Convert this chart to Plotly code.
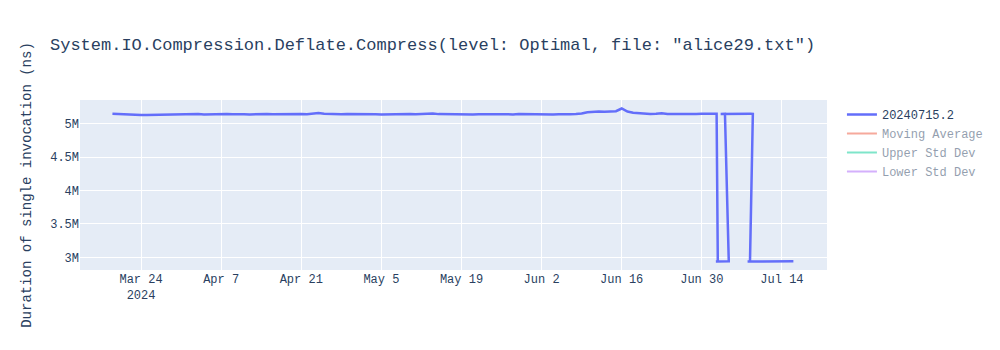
import pandas as pd
import plotly.graph_objects as go

# Regular daily runs (Mar 19 .. Jul 2, 2024)
daily_start = "2024-03-19"
daily_end = "2024-07-02"
daily_values = [
    5146000, 5142000, 5131000, 5128000, 5130000, 5127000, 5129000, 5131000, 5128000, 5130000,
    5133000, 5129000, 5131000,
    5135000, 5138000, 5141000, 5137000, 5140000, 5143000, 5139000, 5141000, 5138000, 5142000,
    5140000, 5137000, 5141000, 5139000, 5142000, 5138000, 5140000, 5136000, 5139000, 5137000,
    5141000, 5138000, 5144000, 5156000, 5146000, 5141000, 5143000, 5140000, 5142000, 5139000,
    5141000, 5137000, 5140000, 5138000, 5136000, 5139000, 5137000, 5140000, 5138000, 5141000,
    5139000, 5142000, 5140000, 5150000, 5141000, 5139000, 5142000, 5138000, 5141000, 5139000,
    5136000, 5140000, 5138000, 5141000, 5139000, 5143000, 5140000, 5137000, 5141000, 5139000,
    5142000,
    5140000, 5138000, 5141000, 5137000, 5140000, 5136000, 5139000, 5142000, 5150000, 5170000,
    5178000, 5180000, 5177000, 5181000, 5184000, 5225000, 5180000, 5163000, 5153000, 5145000,
    5143000, 5146000, 5155000, 5144000, 5142000, 5145000, 5143000, 5146000, 5144000, 5147000,
    5145000, 5146000,
]

# Later runs (in recorded order)
late_dates = [
    "2024-07-02 14:00", "2024-07-02 19:00", "2024-07-02 11:00", "2024-07-04 17:00",
    "2024-07-04 01:00", "2024-07-03 07:00", "2024-07-05 12:00", "2024-07-06 12:00",
    "2024-07-07 12:00", "2024-07-08 12:00", "2024-07-08 22:00", "2024-07-08 10:00",
    "2024-07-08 00:00", "2024-07-10 00:00", "2024-07-12 00:00", "2024-07-14 00:00",
    "2024-07-16 00:00",
]
late_values = [
    5145000, 2940000, 2938000, 2941000,
    5146000, 5144000, 5146000, 5143000,
    5145000, 5147000, 5145000, 2941000,
    2939000, 2940000, 2942000, 2938000,
    2941000,
]

x_range = ["2024-03-13 08:00", "2024-07-21 21:00"]

series_name = "20240715.2"
title_text = 'System.IO.Compression.Deflate.Compress(level: Optimal, file: "alice29.txt")'
y_title = "Duration of single invocation (ns)"

x_all = list(pd.date_range(daily_start, daily_end, freq="D")) + list(pd.to_datetime(late_dates))
y_all = daily_values + late_values

s = pd.Series(y_all)
mov_avg = s.rolling(10, min_periods=1).mean()
mov_std = s.rolling(10, min_periods=1).std().fillna(0)

fig = go.Figure()
fig.add_trace(go.Scatter(x=x_all, y=y_all, mode="lines", name=series_name,
                         line=dict(width=2.5)))
fig.add_trace(go.Scatter(x=x_all, y=mov_avg, mode="lines", name="Moving Average", visible="legendonly"))
fig.add_trace(go.Scatter(x=x_all, y=mov_avg + 2 * mov_std, mode="lines", name="Upper Std Dev", visible="legendonly"))
fig.add_trace(go.Scatter(x=x_all, y=mov_avg - 2 * mov_std, mode="lines", name="Lower Std Dev", visible="legendonly"))

fig.update_layout(
    width=1000,
    height=350,
    title=dict(text=title_text),
    font=dict(family="Courier New, monospace"),
    xaxis=dict(range=x_range),
    yaxis=dict(title=dict(text=y_title)),
    showlegend=True,
)

fig.write_html("out.html")
